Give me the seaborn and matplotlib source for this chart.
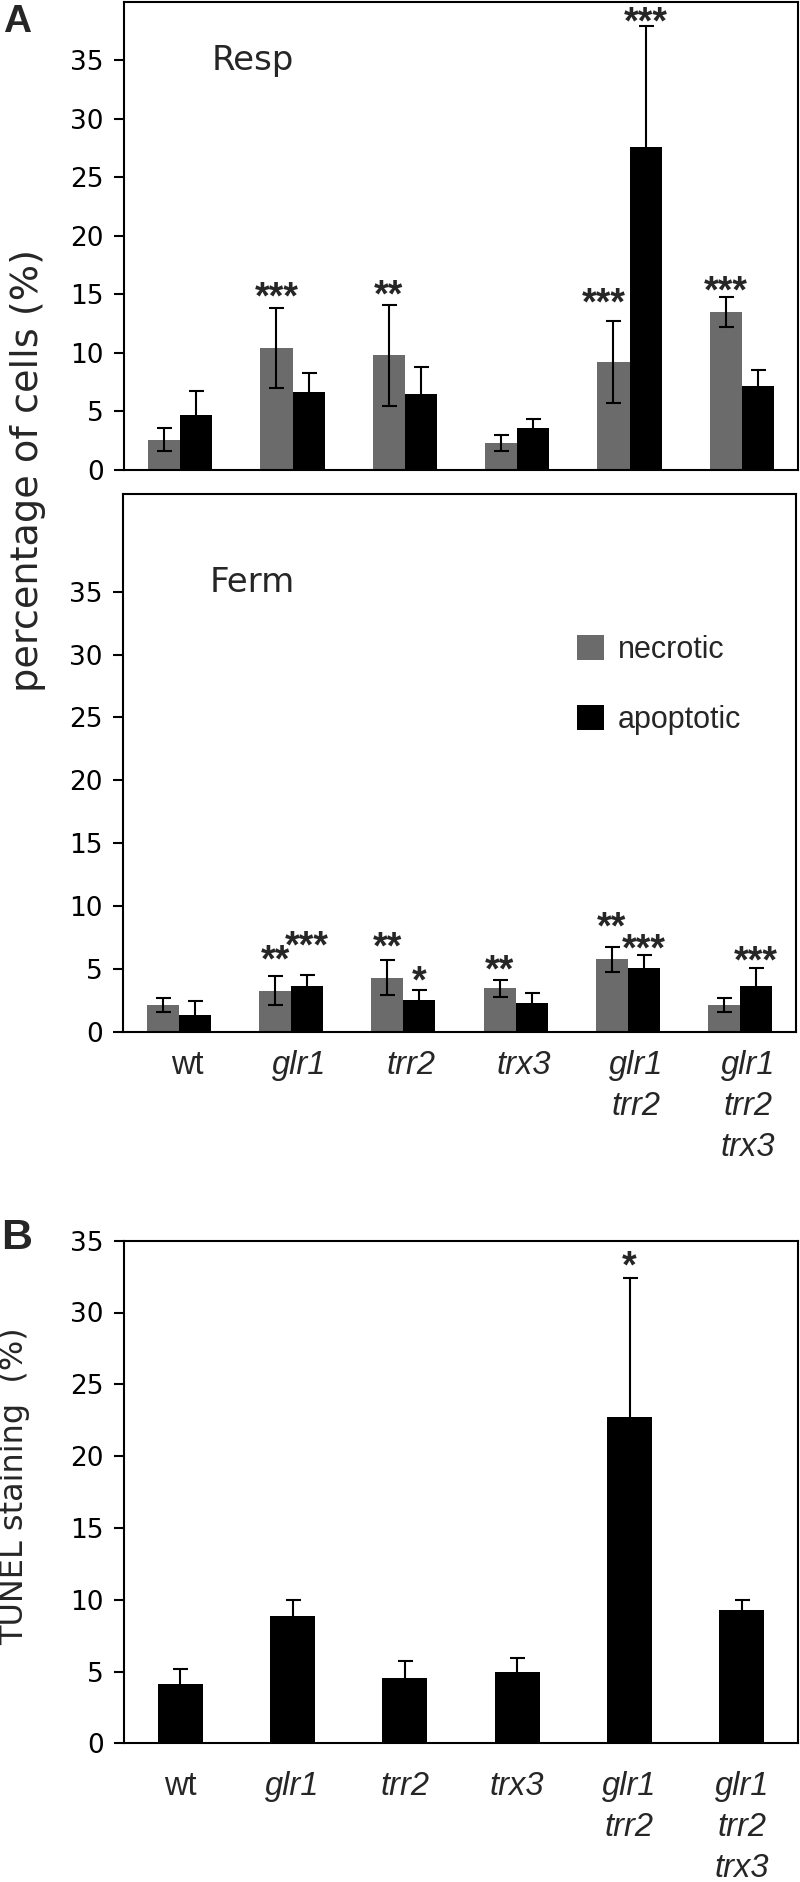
import numpy as np
import pandas as pd
import matplotlib
matplotlib.use("Agg")
import matplotlib.pyplot as plt
import matplotlib.transforms as mtransforms
from matplotlib.patches import Patch
from matplotlib.font_manager import FontProperties
from matplotlib.textpath import TextPath
import seaborn as sns

# ---------------- data ----------------
categories = ["wt", "glr1", "trr2", "trx3", "glr1\ntrr2", "glr1\ntrr2\ntrx3"]
series = ["necrotic", "apoptotic"]

resp_necrotic = [2.6, 10.4, 9.8, 2.3, 9.2, 13.5]
resp_necrotic_err = [1.0, 3.4, 4.3, 0.7, 3.5, 1.3]
resp_apoptotic = [4.7, 6.65, 6.5, 3.6, 27.6, 7.15]
resp_apoptotic_err = [2.05, 1.65, 2.3, 0.75, 10.3, 1.35]

ferm_necrotic = [2.1, 3.25, 4.3, 3.45, 5.75, 2.15]
ferm_necrotic_err = [0.57, 1.15, 1.4, 0.66, 1.0, 0.57]
ferm_apoptotic = [1.35, 3.65, 2.55, 2.3, 5.1, 3.65]
ferm_apoptotic_err = [1.1, 0.87, 0.75, 0.75, 1.0, 1.43]

tunel = [4.1, 8.85, 4.55, 4.95, 22.7, 9.3]
tunel_err = [1.05, 1.1, 1.2, 1.0, 9.7, 0.67]

resp_necrotic_sig = ["", "***", "**", "", "***", "***"]
resp_apoptotic_sig = ["", "", "", "", "***", ""]
ferm_necrotic_sig = ["", "**", "**", "**", "**", ""]
ferm_apoptotic_sig = ["", "***", "*", "", "***", "***"]
tunel_sig = ["", "", "", "", "*", ""]

yticks_A = [0, 5, 10, 15, 20, 25, 30, 35]
yticks_B = [0, 5, 10, 15, 20, 25, 30, 35]

# ---------------- style ----------------
sns.set_style("white")
plt.rcParams["font.family"] = ["DejaVu Sans"]
GRAY = "#6b6b6b"
DPI = 100
W, H = 800, 1882
LW = 1.5

fig = plt.figure(figsize=(W / DPI, H / DPI), dpi=DPI)


def rect(left, right, top, bottom):
    return [left / W, 1 - bottom / H, (right - left) / W, (bottom - top) / H]


ax1 = fig.add_axes(rect(124, 798, 1.5, 470))
ax2 = fig.add_axes(rect(123, 796, 494, 1031.7))
ax3 = fig.add_axes(rect(124, 798, 1240.7, 1743.3))

star_font = FontProperties(family="Liberation Sans", weight="bold", size=27)
_ext = TextPath((0, 0), "*", prop=star_font).get_extents()
star_center_pt = (_ext.y0 + _ext.y1) / 2.0


def stars(ax, xs, tops, labels, gaps, shifts=None):
    if shifts is None:
        shifts = [0] * len(xs)
    for x, t, lab, g, dx in zip(xs, tops, labels, gaps, shifts):
        if lab:
            off_pt = g * 72.0 / DPI - star_center_pt
            ax.annotate(lab, xy=(x, t), xytext=(dx * 72.0 / DPI, off_pt),
                        textcoords="offset points", ha="center", va="baseline",
                        fontproperties=star_font, annotation_clip=False)


def grouped(ax, nec, nec_err, apo, apo_err, ymax):
    df = pd.DataFrame({
        "strain": categories * 2,
        "type": [series[0]] * len(categories) + [series[1]] * len(categories),
        "value": list(nec) + list(apo),
    })
    sns.barplot(data=df, x="strain", y="value", hue="type", order=categories,
                hue_order=series, palette={series[0]: GRAY, series[1]: "black"},
                width=0.57, errorbar=None, legend=False, saturation=1,
                linewidth=0, ax=ax)
    centers = []
    for cont, errs in zip(ax.containers, [nec_err, apo_err]):
        xs = [b.get_x() + b.get_width() / 2 for b in cont]
        hs = [b.get_height() for b in cont]
        ax.errorbar(xs, hs, yerr=errs, fmt="none", ecolor="black",
                    elinewidth=LW, capsize=5.4, capthick=LW, zorder=3)
        centers.append((xs, [h + e for h, e in zip(hs, errs)]))
    ax.set_ylim(0, ymax)
    ax.set_xlim(-0.5, len(categories) - 0.5)
    return centers


def style_axes(ax, yticks):
    for s in ax.spines.values():
        s.set_visible(True)
        s.set_linewidth(LW)
        s.set_color("black")
    ax.set_yticks(yticks)
    ax.tick_params(axis="y", direction="out", length=7.5, width=LW, pad=7,
                   labelsize=19, colors="black", left=True)
    ax.tick_params(axis="x", length=0)
    ax.set_xlabel("")
    ax.set_ylabel("")


# ---- Panel A top: Resp ----
c1 = grouped(ax1, resp_necrotic, resp_necrotic_err, resp_apoptotic, resp_apoptotic_err, 40)
style_axes(ax1, yticks_A)
ax1.set_xticklabels([])
stars(ax1, c1[0][0], c1[0][1], resp_necrotic_sig, [0, 19, 17, 0, 26, 13],
      [0, 0, 0, 0, -10, 0])
stars(ax1, c1[1][0], c1[1][1], resp_apoptotic_sig, [0, 0, 0, 0, 11, 0])
ax1.text(0.130, 0.874, "Resp", transform=ax1.transAxes, fontsize=24.5,
         ha="left", va="center")

# ---- Panel A bottom: Ferm ----
c2 = grouped(ax2, ferm_necrotic, ferm_necrotic_err, ferm_apoptotic, ferm_apoptotic_err, 42.78)
style_axes(ax2, yticks_A)
stars(ax2, c2[0][0], c2[0][1], ferm_necrotic_sig, [0, 24, 20, 17, 27, 0])
stars(ax2, c2[1][0], c2[1][1], ferm_apoptotic_sig, [0, 36, 17, 0, 13, 14])
ax2.text(0.129, 0.836, "Ferm", transform=ax2.transAxes, fontsize=24.5,
         ha="left", va="center")

handles = [Patch(facecolor=GRAY, edgecolor="none", label=series[0]),
           Patch(facecolor="black", edgecolor="none", label=series[1])]
ax2.legend(handles=handles, loc="upper left", bbox_to_anchor=(0.6746, 0.738),
           frameon=False, prop=FontProperties(family="Liberation Sans", size=22),
           handlelength=0.88, handleheight=0.88, handletextpad=0.46,
           labelspacing=1.3, borderpad=0, borderaxespad=0)

# ---- Panel B ----
sns.barplot(x=categories, y=tunel, order=categories, color="black", width=0.40,
            saturation=1, errorbar=None, linewidth=0, ax=ax3)
bars = ax3.containers[0]
xs3 = [b.get_x() + b.get_width() / 2 for b in bars]
hs3 = [b.get_height() for b in bars]
ax3.errorbar(xs3, hs3, yerr=tunel_err, fmt="none", ecolor="black",
             elinewidth=LW, capsize=5.4, capthick=LW, zorder=3)
ax3.set_ylim(0, 35)
ax3.set_xlim(-0.5, len(categories) - 0.5)
style_axes(ax3, yticks_B)
stars(ax3, xs3, [h + e for h, e in zip(hs3, tunel_err)], tunel_sig, [0, 0, 0, 0, 19, 0])

# x tick labels
for ax, pad, dx in [(ax2, 13, 8), (ax3, 20, 0)]:
    ax.set_xticks(range(len(categories)))
    ax.set_xticklabels(categories)
    ax.tick_params(axis="x", pad=pad)
    offset = mtransforms.ScaledTranslation(dx / DPI, 0, fig.dpi_scale_trans)
    for lab in ax.get_xticklabels():
        lab.set_fontfamily("Liberation Sans")
        lab.set_fontsize(23.5)
        lab.set_fontstyle("normal" if lab.get_text() == "wt" else "italic")
        lab.set_linespacing(1.42)
        lab.set_transform(lab.get_transform() + offset)

# y labels and panel letters
fig.text(28 / W, 1 - 471 / H, "percentage of cells (%)", rotation=90,
         ha="center", va="center", fontsize=27.5)
fig.text(15 / W, 1 - 1486 / H, "TUNEL staining  (%)", rotation=90,
         ha="center", va="center", fontsize=23)
fig.text(17 / W, 1 - 22 / H, "A", ha="center", va="center",
         fontfamily="Liberation Sans", fontweight="bold", fontsize=28)
fig.text(17 / W, 1 - 1238 / H, "B", ha="center", va="center",
         fontfamily="Liberation Sans", fontweight="bold", fontsize=31)

fig.savefig("out.png", dpi=DPI)
